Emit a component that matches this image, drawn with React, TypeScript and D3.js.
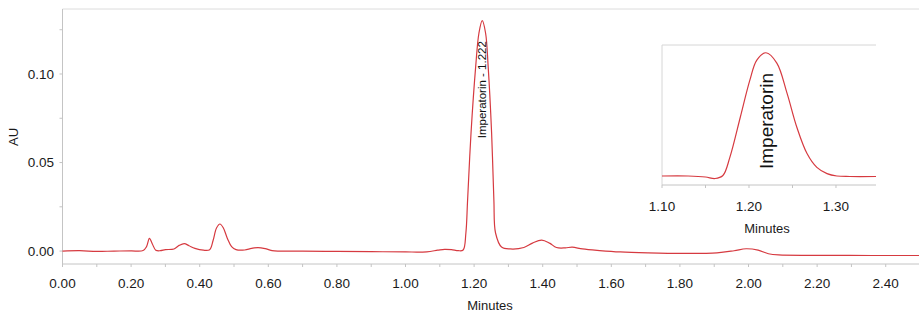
import React from "react";
import * as d3 from "d3";

// full run (minutes, AU)
const runTime = [
  0.0, 0.05, 0.1, 0.15, 0.2, 0.235, 0.245, 0.2535, 0.262, 0.272, 0.285, 0.3,
  0.325, 0.34, 0.355, 0.369, 0.386, 0.411, 0.429, 0.439, 0.449, 0.459, 0.469,
  0.481, 0.493, 0.506, 0.531, 0.551, 0.57, 0.591, 0.611, 0.7, 0.8, 0.9, 1.0,
  1.062, 1.094, 1.114, 1.134, 1.154, 1.168, 1.176, 1.181, 1.191, 1.2045, 1.214,
  1.2237, 1.2335, 1.241, 1.251, 1.2576, 1.2625, 1.28, 1.305, 1.345, 1.37, 1.397,
  1.42, 1.44, 1.466, 1.486, 1.516, 1.566, 1.626, 1.707, 1.807, 1.908, 1.958,
  1.993, 2.028, 2.058, 2.088, 2.21, 2.36, 2.497,
];
const runAU = [
  0.0, 0.0002, -0.0002, 0.0, 0.0001, 0.0003, 0.0025, 0.0072, 0.004, 0.0005,
  0.0002, 0.0008, 0.0012, 0.0032, 0.0042, 0.003, 0.0015, 0.0005, 0.0008, 0.006,
  0.013, 0.0153, 0.013, 0.007, 0.0025, 0.0008, 0.0006, 0.0015, 0.002, 0.0014,
  0.0003, 0.0, -0.0002, -0.0003, -0.0005, -0.0004, 0.0005, 0.001, 0.0008,
  0.0002, 0.0006, 0.0102, 0.0288, 0.0667, 0.104, 0.123, 0.1301, 0.123, 0.104,
  0.0667, 0.0288, 0.0102, 0.0023, 0.0012, 0.002, 0.0045, 0.0062, 0.0045, 0.002,
  0.0018, 0.0022, 0.0012, 0.0003, -0.0005, -0.001, -0.0013, -0.001, 0.0002,
  0.0013, 0.0005, -0.0015, -0.0022, -0.0024, -0.0025, -0.0025,
];

// zoomed view of the imperatorin peak
const zoomTime = [
  1.1, 1.13, 1.15, 1.161, 1.17, 1.178, 1.19, 1.201, 1.209, 1.2195, 1.232,
  1.2437, 1.255, 1.2667, 1.278, 1.2897, 1.301, 1.316, 1.346,
];
const zoomAU = [
  0.0005, 0.0005, -0.0005, -0.0021, 0.001, 0.02, 0.062, 0.1008, 0.1218, 0.1295,
  0.1187, 0.0872, 0.0515, 0.024, 0.0095, 0.003, 0.0005, 0.0, 0.0,
];

const xTicks = [0, 0.2, 0.4, 0.6, 0.8, 1.0, 1.2, 1.4, 1.6, 1.8, 2.0, 2.2, 2.4];
const yTicks = [0, 0.05, 0.1];
const zoomTicks = [1.1, 1.2, 1.3];
const peakLabel = "Imperatorin - 1.222";
const peakTime = 1.2237;
const peakAU = 0.1301;

const FONT = "'Liberation Sans', Arial, sans-serif";
const RED = "#d63a40";
const AXIS = "#c4c4c4";
const INK = "#1a1a1a";

const App = () => {
  // main plot scales
  const x = d3.scaleLinear().domain([0, 2.497]).range([62.5, 919]);
  const y = d3.scaleLinear().domain([-0.0073, 0.1367]).range([264, 9]);

  // inset scales
  const xi = d3.scaleLinear().domain([1.1, 1.346]).range([662, 876]);
  const yi = d3.scaleLinear().domain([-0.0089, 0.1376]).range([185, 45]);

  const run = runTime.map((t, i) => [t, runAU[i]] as [number, number]);
  const zoom = zoomTime.map((t, i) => [t, zoomAU[i]] as [number, number]);

  const mainLine = d3
    .line<[number, number]>()
    .x((d) => x(d[0]))
    .y((d) => y(d[1]))
    .curve(d3.curveCatmullRom.alpha(0.5));

  const insetLine = d3
    .line<[number, number]>()
    .x((d) => xi(d[0]))
    .y((d) => yi(d[1]))
    .curve(d3.curveCatmullRom.alpha(0.5));

  const minor = d3.range(0, 2.49, 0.1);
  const yMinor = d3.range(0, 0.131, 0.025);

  return (
    <div style={{ position: "absolute", left: 0, top: 0 }}>
      <svg width={919} height={320} style={{ display: "block", background: "#fff" }}>
        {/* frame */}
        <line x1={62.5} x2={919} y1={9} y2={9} stroke="#dcdcdc" strokeWidth={1} />
        <line x1={62.5} x2={62.5} y1={9} y2={264} stroke={AXIS} strokeWidth={1} />
        <line x1={62.5} x2={919} y1={264} y2={264} stroke={AXIS} strokeWidth={1} />

        {/* x axis ticks */}
        {minor.map((t) => (
          <line key={"mx" + t} x1={x(t)} x2={x(t)} y1={264} y2={267} stroke={AXIS} />
        ))}
        {xTicks.map((t) => (
          <text
            key={"xt" + t}
            x={x(t)}
            y={288}
            textAnchor="middle"
            fontFamily={FONT}
            fontSize={13.5}
            fill={INK}
          >
            {t.toFixed(2)}
          </text>
        ))}
        <text x={490} y={310} textAnchor="middle" fontFamily={FONT} fontSize={13} fill={INK}>
          Minutes
        </text>

        {/* y axis ticks */}
        {yMinor.map((v) => (
          <line key={"my" + v} x1={59.5} x2={62.5} y1={y(v)} y2={y(v)} stroke={AXIS} />
        ))}
        {yTicks.map((v) => (
          <text
            key={"yt" + v}
            x={54}
            y={y(v) + 4.7}
            textAnchor="end"
            fontFamily={FONT}
            fontSize={13.5}
            fill={INK}
          >
            {v.toFixed(2)}
          </text>
        ))}
        <text
          transform="translate(13,137) rotate(-90)"
          dy="0.35em"
          textAnchor="middle"
          fontFamily={FONT}
          fontSize={13}
          fill={INK}
        >
          AU
        </text>

        {/* chromatogram */}
        <path d={mainLine(run) ?? ""} fill="none" stroke={RED} strokeWidth={1.2} />
        <text
          transform={`translate(${x(peakTime)},${y(peakAU) + 69}) rotate(-90)`}
          dy="0.35em"
          textAnchor="middle"
          fontFamily={FONT}
          fontSize={11.5}
          fill="#111"
        >
          {peakLabel}
        </text>

        {/* inset */}
        <line x1={662} x2={876} y1={45} y2={45} stroke="#d6d6d6" />
        <line x1={662} x2={662} y1={45} y2={185} stroke="#d6d6d6" />
        <line x1={662} x2={876} y1={185} y2={185} stroke={AXIS} />
        {d3.range(1.1, 1.346, 0.05).map((t) => (
          <line key={"it" + t} x1={xi(t)} x2={xi(t)} y1={185} y2={188} stroke={AXIS} />
        ))}
        {zoomTicks.map((t) => (
          <text
            key={"zt" + t}
            x={xi(t)}
            y={210.5}
            textAnchor="middle"
            fontFamily={FONT}
            fontSize={13.5}
            fill={INK}
          >
            {t.toFixed(2)}
          </text>
        ))}
        <text x={767} y={232.5} textAnchor="middle" fontFamily={FONT} fontSize={13} fill={INK}>
          Minutes
        </text>
        <path d={insetLine(zoom) ?? ""} fill="none" stroke={RED} strokeWidth={1.2} />
        <text
          transform="translate(766,121) rotate(-90)"
          dy="0.35em"
          textAnchor="middle"
          fontFamily={FONT}
          fontSize={19}
          fill="#111"
        >
          Imperatorin
        </text>
      </svg>
    </div>
  );
};

export default App;
